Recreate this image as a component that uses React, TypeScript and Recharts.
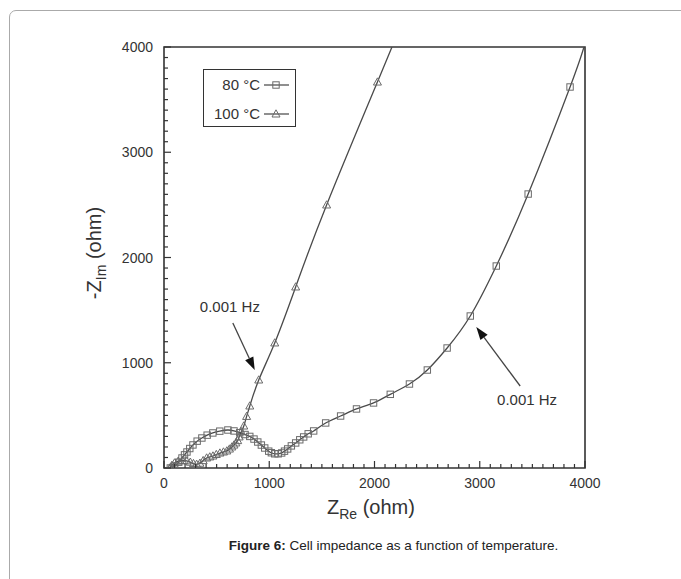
import React from "react";
import {
  ComposedChart,
  Line,
  XAxis,
  YAxis,
  ReferenceArea,
  ReferenceLine,
  ReferenceDot,
} from "recharts";

// Nyquist data (ohm). The last point of each series is
// where the fitted curve leaves the frame, it carries no marker.
const zRe80 = [
  60, 100, 140, 171, 195, 218, 245, 275, 315, 360, 410, 464, 530, 607, 665, 720,
  770, 815, 855, 891, 925, 957, 995, 1020, 1052, 1085, 1118, 1145, 1175, 1210,
  1251, 1290, 1327, 1370, 1422, 1536, 1678, 1829, 1991, 2150, 2332, 2502, 2690,
  2910, 3157, 3460, 3858, 3990,
];
const zIm80 = [
  0, 20, 55, 95, 125, 152, 185, 219, 255, 285, 312, 333, 350, 361, 352, 335,
  318, 300, 275, 247, 218, 190, 160, 145, 135, 135, 143, 160, 181, 210,
  238, 268, 295, 325, 352, 428, 494, 561, 618, 700, 798, 931, 1140,
  1444, 1919, 2603, 3620, 4000,
];

const zRe100 = [
  55, 75, 100, 135, 175, 215, 250, 280, 310, 341, 372, 405, 435, 465, 497, 531,
  565, 597, 622, 645, 665, 683, 700, 714, 735, 758, 785, 815, 900, 1052, 1251,
  1545, 2028, 2166,
];
const zIm100 = [
  0, 25, 48, 65, 72, 68, 55, 42, 35, 45, 70, 95, 105, 114, 128, 142,
  152, 162, 180, 200, 218, 238, 260, 295, 345, 399, 490, 589, 836, 1188, 1720,
  2499, 3667, 4000,
];

const majorTicks = [0, 1000, 2000, 3000, 4000];
const minorStep = 100;
const allTicks = Array.from({ length: 41 }, (_, i) => i * minorStep);

const arrowTips = [
  { x: 862, y: 930 },
  { x: 2967, y: 1340 },
];
const arrowTails = [
  { x: 654, y: 1378 },
  { x: 3384, y: 779 },
];
const noteText = ["0.001 Hz", "0.001 Hz"];
const notePos = [
  { x: 626, y: 1530 },
  { x: 3450, y: 646 },
];

const legendNames = ["80 °C", "100 °C"];

const toRows = (xs: number[], ys: number[]) =>
  xs.map((x, i) => ({ x, y: ys[i], mark: i < xs.length - 1 }));

const rows80 = toRows(zRe80, zIm80);
const rows100 = toRows(zRe100, zIm100);

const INK = "#333";
const FONT = "Arial, 'Liberation Sans', Helvetica, sans-serif";

function SquareMark({ cx, cy }: { cx: number; cy: number }) {
  return (
    <rect x={cx - 3.2} y={cy - 3.2} width={6.4} height={6.4} fill="none" stroke="#6a6a6a" strokeWidth={1} />
  );
}

function TriMark({ cx, cy }: { cx: number; cy: number }) {
  return (
    <polygon
      points={`${cx},${cy - 4.2} ${cx + 4},${cy + 3} ${cx - 4},${cy + 3}`}
      fill="none"
      stroke="#6a6a6a"
      strokeWidth={1}
    />
  );
}

const dotFor = (kind: "sq" | "tri") => (p: any) => {
  const key = `${kind}-${p.index}`;
  if (!p.payload.mark) return <g key={key} />;
  return kind === "sq" ? <SquareMark key={key} cx={p.cx} cy={p.cy} /> : <TriMark key={key} cx={p.cx} cy={p.cy} />;
};

function XTick({ x, y, payload }: any) {
  const major = majorTicks.includes(payload.value);
  return (
    <g>
      <line x1={x} y1={y} x2={x} y2={y - (major ? 7 : 4)} stroke={INK} strokeWidth={1.2} />
      {major && (
        <text x={x} y={y + 20} textAnchor="middle" fontSize={14} fill={INK} fontFamily={FONT}>
          {payload.value}
        </text>
      )}
    </g>
  );
}

function YTick({ x, y, payload }: any) {
  const major = majorTicks.includes(payload.value);
  return (
    <g>
      <line x1={x} y1={y} x2={x + (major ? 7 : 4)} y2={y} stroke={INK} strokeWidth={1.2} />
      {major && (
        <text x={x - 11} y={y + 5} textAnchor="end" fontSize={14} fill={INK} fontFamily={FONT}>
          {payload.value}
        </text>
      )}
    </g>
  );
}

function Arrow(props: any) {
  const { x1, y1, x2, y2 } = props;
  const ang = Math.atan2(y2 - y1, x2 - x1);
  const len = 13;
  const half = 4.5;
  const bx = x2 - len * Math.cos(ang);
  const by = y2 - len * Math.sin(ang);
  const nx = -Math.sin(ang) * half;
  const ny = Math.cos(ang) * half;
  return (
    <g>
      <line x1={x1} y1={y1} x2={bx} y2={by} stroke="#444" strokeWidth={1.3} />
      <polygon points={`${x2},${y2} ${bx + nx},${by + ny} ${bx - nx},${by - ny}`} fill="#111" />
    </g>
  );
}

function LegendBox() {
  return (
    <div
      style={{
        position: "absolute",
        left: 203,
        top: 69,
        width: 91,
        height: 56,
        border: `1.5px solid ${INK}`,
        fontFamily: FONT,
        fontSize: 15,
        color: INK,
      }}
    >
      {legendNames.map((name, i) => (
        <div
          key={name}
          style={{ position: "absolute", right: 4, top: i === 0 ? 6 : 35, display: "flex", alignItems: "center" }}
        >
          <span>{name}</span>
          <svg width={28} height={12} style={{ marginLeft: 3 }}>
            <line x1={1} y1={6} x2={26} y2={6} stroke="#444" strokeWidth={1.2} />
            {i === 0 ? <SquareMark cx={13} cy={6} /> : <TriMark cx={13} cy={6} />}
          </svg>
        </div>
      ))}
    </div>
  );
}

export default function App() {
  return (
    <div style={{ position: "absolute", left: 0, top: 0, width: 681, height: 579, overflow: "hidden", background: "#fff" }}>
      <div
        style={{
          position: "absolute",
          left: 9,
          top: 10,
          width: 740,
          height: 640,
          border: "1px solid #aaa",
          borderRadius: 7,
        }}
      />
      <div style={{ position: "absolute", left: 0, top: 0 }}>
        <ComposedChart width={681} height={579} margin={{ top: 47, right: 96, bottom: 81, left: 104 }}>
          <XAxis
            type="number"
            dataKey="x"
            domain={[0, 4000]}
            ticks={allTicks}
            interval={0}
            height={30}
            tickSize={0}
            tickMargin={0}
            axisLine={false}
            tickLine={false}
            tick={<XTick />}
            allowDataOverflow
          />
          <YAxis
            type="number"
            dataKey="y"
            domain={[0, 4000]}
            ticks={allTicks}
            interval={0}
            width={60}
            tickSize={0}
            tickMargin={0}
            axisLine={false}
            tickLine={false}
            tick={<YTick />}
            allowDataOverflow
          />
          <ReferenceArea x1={0} x2={4000} y1={0} y2={4000} fill="none" stroke={INK} strokeWidth={1.6} ifOverflow="visible" />
          <Line
            data={rows80}
            dataKey="y"
            type="natural"
            stroke="#4a4a4a"
            strokeWidth={1.3}
            dot={dotFor("sq")}
            activeDot={false}
            isAnimationActive={false}
          />
          <Line
            data={rows100}
            dataKey="y"
            type="natural"
            stroke="#4a4a4a"
            strokeWidth={1.3}
            dot={dotFor("tri")}
            activeDot={false}
            isAnimationActive={false}
          />
          {arrowTips.map((tip, i) => (
            <ReferenceLine key={`a${i}`} segment={[arrowTails[i], tip]} shape={<Arrow />} ifOverflow="visible" />
          ))}
          {notePos.map((p, i) => (
            <ReferenceDot
              key={`n${i}`}
              x={p.x}
              y={p.y}
              r={0}
              fill="none"
              stroke="none"
              label={{ value: noteText[i], position: "center", fontSize: 15, fill: INK, fontFamily: FONT }}
            />
          ))}
        </ComposedChart>
      </div>
      <LegendBox />
      <div
        style={{
          position: "absolute",
          left: 327,
          top: 496,
          fontFamily: FONT,
          fontSize: 20,
          lineHeight: "22px",
          color: INK,
          whiteSpace: "nowrap",
        }}
      >
        Z<sub style={{ fontSize: 14, lineHeight: 0 }}>Re</sub> (ohm)
      </div>
      <div
        style={{
          position: "absolute",
          left: 96,
          top: 253,
          transform: "translate(-50%, -50%) rotate(-90deg)",
          fontFamily: FONT,
          fontSize: 20,
          color: INK,
          whiteSpace: "nowrap",
        }}
      >
        -Z<sub style={{ fontSize: 14 }}>Im</sub> (ohm)
      </div>
      <div
        style={{
          position: "absolute",
          left: 0,
          width: 681,
          top: 538,
          textAlign: "center",
          fontFamily: FONT,
          fontSize: 13.5,
          color: "#222",
          whiteSpace: "nowrap",
        }}
      >
        <span style={{ position: "relative", left: 53 }}>
          <b>Figure 6:</b> Cell impedance as a function of temperature.
        </span>
      </div>
    </div>
  );
}
